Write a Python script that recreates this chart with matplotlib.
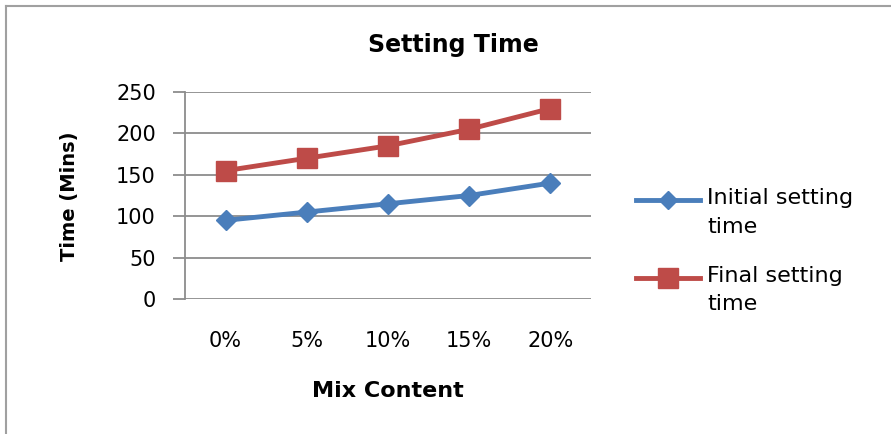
import matplotlib
matplotlib.use("Agg")
import matplotlib.pyplot as plt
from matplotlib.lines import Line2D

categories = ["0%", "5%", "10%", "15%", "20%"]
initial_setting = [95, 105, 115, 125, 140]
final_setting = [155, 170, 185, 205, 230]
yticks = [0, 50, 100, 150, 200, 250]

blue = "#4A7EBB"
red = "#BE4B48"
grid_c = "#8C8C8C"

plt.rcParams["font.family"] = ["DejaVu Sans"]

fig = plt.figure(figsize=(8.91, 4.34), dpi=100)
W, H = 891, 434
ax = fig.add_axes([185 / W, 1 - 299 / H, (591 - 185) / W, (299 - 92) / H])

x = list(range(len(categories)))
ax.plot(x, initial_setting, color=blue, lw=3.5, marker="D", ms=10, mec=blue, mfc=blue,
        label="Initial setting\ntime", zorder=3)
ax.plot(x, final_setting, color=red, lw=3.5, marker="s", ms=15, mec=red, mfc=red,
        label="Final setting\ntime", zorder=3)

ax.set_xlim(-0.5, len(categories) - 0.5)
ax.set_ylim(0, 250)
ax.set_yticks(yticks)
ax.set_yticklabels([str(v) for v in yticks])
ax.set_xticks(x)
ax.set_xticklabels(categories)
ax.yaxis.grid(True, color=grid_c, lw=1.3)
ax.set_axisbelow(True)
for s in ["top", "right", "bottom"]:
    ax.spines[s].set_visible(False)
ax.spines["left"].set_color(grid_c)
ax.spines["left"].set_linewidth(1.3)
ax.tick_params(axis="y", length=9, width=1.3, color=grid_c, pad=12, labelsize=15)
ax.tick_params(axis="x", length=0, pad=23, labelsize=15)

fig.text(453 / W, 1 - 45 / H, "Setting Time", ha="center", va="center",
         fontsize=17, fontweight="bold")
fig.text(388 / W, 1 - 391 / H, "Mix Content", ha="center", va="center",
         fontsize=16, fontweight="bold")
fig.text(70 / W, 1 - 196 / H, "Time (Mins)", ha="center", va="center", rotation=90,
         fontsize=14, fontweight="bold")

leg = fig.legend(loc="upper left", bbox_to_anchor=(636 / W, 1 - 188 / H), frameon=False,
                 prop={"size": 16}, handlelength=2.9, handletextpad=0.3, labelspacing=1.3,
                 borderaxespad=0, borderpad=0)
for t in leg.get_texts():
    t.set_linespacing(1.55)
# put each legend symbol level with the first line of its two-line label
for h in leg.legend_handles:
    h.set_ydata([y + 9 for y in h.get_ydata()])
leg.legend_handles[0].set_markersize(9)

# outer chart border (left and top)
fig.add_artist(Line2D([6 / W, 6 / W], [0, 1 - 6 / H], transform=fig.transFigure,
                      color="#A0A0A0", lw=1.5))
fig.add_artist(Line2D([6 / W, 1], [1 - 6 / H, 1 - 6 / H], transform=fig.transFigure,
                      color="#A0A0A0", lw=1.5))

fig.savefig("out.png", dpi=100)
